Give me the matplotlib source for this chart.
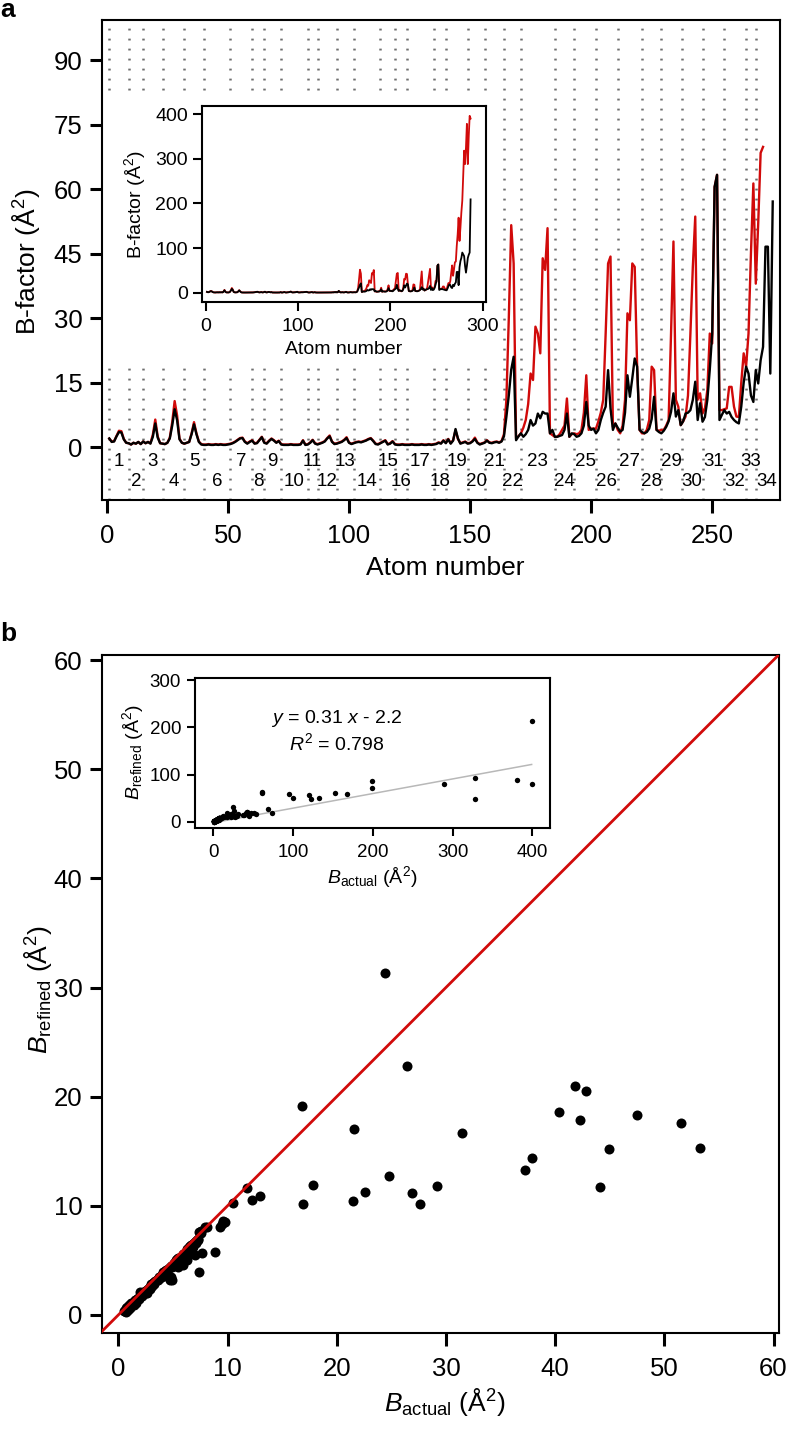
import matplotlib
matplotlib.use('Agg')
import matplotlib.pyplot as plt
import numpy as np
from matplotlib.patches import Rectangle

plt.rcParams['font.family'] = ['Liberation Sans', 'DejaVu Sans']
plt.rcParams['mathtext.fontset'] = 'custom'
plt.rcParams['mathtext.rm'] = 'Liberation Sans'
plt.rcParams['mathtext.it'] = 'Liberation Sans:italic'
plt.rcParams['mathtext.bf'] = 'Liberation Sans:bold'

# ---------------- data: per-atom B-factors (panel a) ----------------
b_refined = [
    2.0, 1.2, 1.3, 2.5, 3.5, 3.4, 1.8, 1.0, 0.9, 0.6,
    1.0, 0.8, 1.2, 0.7, 1.3, 0.9, 1.2, 0.8, 2.4, 5.5,
    2.2, 0.9, 0.8, 0.7, 1.0, 2.0, 5.0, 8.8, 6.3, 1.8,
    1.0, 0.8, 1.0, 1.2, 3.0, 5.3, 3.0, 1.2, 0.6, 0.5,
    0.5, 0.6, 0.5, 0.5, 0.6, 0.5, 0.6, 0.5, 0.5, 0.6,
    0.7, 0.9, 1.2, 1.6, 2.0, 2.1, 1.2, 0.8, 1.2, 1.5,
    0.8, 0.9, 1.6, 2.3, 1.0, 0.8, 1.4, 1.9, 1.5, 1.0,
    1.4, 0.6, 0.5, 0.5, 0.5, 0.6, 0.5, 0.5, 0.5, 0.6,
    1.5, 0.5, 0.6, 1.0, 1.6, 0.8, 0.6, 0.8, 1.0, 1.3,
    2.0, 2.5, 1.2, 0.7, 0.8, 1.0, 1.2, 1.6, 2.1, 1.0,
    0.7, 0.9, 1.1, 1.2, 1.1, 1.3, 1.5, 1.8, 2.0, 1.4,
    0.7, 0.6, 0.9, 1.2, 1.5, 0.6, 0.8, 1.3, 0.6, 0.5,
    0.5, 0.6, 0.5, 0.5, 0.5, 0.6, 0.5, 0.5, 0.5, 0.6,
    0.5, 0.5, 0.6, 0.5, 0.6, 0.7, 1.0, 0.8, 1.5, 0.9,
    1.8, 0.8, 1.5, 4.2, 2.0, 0.8, 1.0, 1.2, 0.8, 0.9,
    1.3, 1.9, 1.0, 0.6, 0.8, 1.0, 1.5, 1.0, 0.9, 1.1,
    1.2, 1.0, 1.3, 2.5,
    7.0, 12.0, 18.0, 21.0, 1.6, 2.5,
    3.2, 2.4, 3.0, 4.0, 6.3, 5.0, 5.5, 7.8, 6.7, 8.2,
    7.8, 7.8, 3.2, 4.0, 2.4, 2.4, 2.6, 2.8, 4.0, 7.8,
    2.4, 3.2, 3.0, 2.4, 2.6, 3.2, 5.0, 10.5, 5.0, 4.0,
    4.3, 3.2, 4.0, 6.3, 8.0, 9.4, 17.9, 9.0, 4.0, 5.5,
    4.5, 3.6, 4.0, 8.0, 16.7, 11.7, 16.0, 20.6, 18.7, 4.0,
    3.5, 3.2, 3.5, 4.3, 6.5, 11.7, 4.0, 3.5, 3.2, 3.8,
    4.7, 6.0, 8.2, 12.5, 7.1, 8.6, 5.1, 6.0, 7.8, 8.0,
    8.6, 11.0, 15.2, 6.3, 10.2, 5.9, 7.0, 11.0, 18.0, 26.4,
    60.5, 63.3, 6.3, 7.5, 8.6, 7.8, 8.2, 7.0, 6.3, 5.8,
    5.5, 9.4, 15.0, 18.7, 17.1, 12.0, 10.5, 17.9, 14.8, 20.2,
    23.3, 46.6, 46.6, 17.1, 57.1, 71.0, 78.0, 90.0, 86.0, 82.0,
    60.0, 45.0, 60.0, 78.0, 85.0, 90.0, 209.0,
]
b_actual = [
    2.0, 1.3, 1.4, 2.6, 3.8, 3.7, 1.9, 1.0, 0.9, 0.6,
    1.0, 0.8, 1.2, 0.7, 1.3, 0.9, 1.2, 0.9, 2.9, 6.4,
    2.5, 0.9, 0.8, 0.7, 1.0, 2.2, 5.8, 10.7, 7.4, 2.0,
    1.0, 0.8, 1.0, 1.2, 3.2, 5.8, 3.2, 1.3, 0.7, 0.6,
    0.6, 0.7, 0.6, 0.6, 0.7, 0.6, 0.7, 0.6, 0.6, 0.7,
    0.8, 1.0, 1.3, 1.7, 2.1, 2.2, 1.3, 0.9, 1.3, 1.6,
    0.9, 1.0, 1.7, 2.4, 1.1, 0.9, 1.5, 2.0, 1.6, 1.1,
    1.5, 0.7, 0.6, 0.6, 0.6, 0.7, 0.6, 0.6, 0.6, 0.7,
    1.6, 0.6, 0.7, 1.1, 1.7, 0.9, 0.7, 0.9, 1.1, 1.4,
    2.1, 2.7, 1.3, 0.8, 0.9, 1.1, 1.3, 1.7, 2.3, 1.1,
    0.8, 1.0, 1.2, 1.3, 1.2, 1.4, 1.6, 1.9, 2.1, 1.5,
    0.8, 0.7, 1.0, 1.3, 1.6, 0.7, 0.9, 1.4, 0.7, 0.6,
    0.6, 0.7, 0.6, 0.6, 0.6, 0.7, 0.6, 0.6, 0.6, 0.7,
    0.6, 0.6, 0.7, 0.6, 0.7, 0.8, 1.1, 0.9, 1.6, 1.0,
    1.9, 0.9, 1.6, 3.9, 1.9, 0.9, 1.1, 1.3, 0.9, 1.0,
    1.4, 2.2, 1.1, 0.7, 0.9, 1.1, 1.6, 1.1, 1.0, 1.2,
    1.3, 1.1, 1.4, 3.0,
    11.0, 30.0, 51.6, 42.7, 2.0, 2.5,
    3.2, 4.5, 6.3, 10.0, 17.1, 15.6, 28.0, 26.4, 21.8, 43.9,
    41.2, 50.9, 3.2, 2.8, 2.4, 2.4, 3.0, 4.0, 5.0, 11.3,
    2.4, 3.0, 3.2, 3.0, 3.2, 4.0, 8.0, 16.7, 4.0, 4.3,
    4.3, 4.3, 6.0, 8.0, 11.0, 26.4, 42.7, 44.3, 4.7, 5.5,
    4.0, 3.2, 5.0, 11.0, 31.1, 29.5, 42.7, 41.9, 18.7, 4.0,
    3.2, 3.2, 4.0, 6.3, 18.7, 17.9, 4.0, 3.8, 4.0, 4.0,
    5.0, 6.3, 26.4, 47.8, 11.0, 9.4, 5.1, 6.0, 7.1, 12.0,
    26.4, 41.9, 53.6, 11.0, 12.5, 7.8, 9.0, 13.3, 26.4, 24.1,
    60.5, 63.3, 8.6, 8.6, 8.8, 9.0, 14.0, 14.0, 9.4, 7.1,
    7.0, 15.0, 21.8, 18.7, 26.4, 45.0, 61.3, 38.0, 52.0, 68.4,
    69.8, 105.0, 131.0, 168.0, 116.0, 146.0, 180.0, 206.0, 260.0, 318.0,
    288.0, 325.0, 378.0, 288.0, 350.0, 396.0, 390.0,
]
atoms = list(range(1, len(b_actual) + 1))
n_main_actual = 271     # atoms shown in the main panel a
n_main_refined = 275

# residue boundaries (atom number where each residue starts) and end
residue_starts = [1, 9, 15, 23, 32, 40, 51, 60, 65, 72, 83, 87, 95, 102, 113,
                  119, 124, 135, 140, 149, 156, 164, 171, 185, 193, 202, 211,
                  221, 229, 237.5, 246, 255, 264, 268]
residue_end = 277
residue_names = [str(i) for i in range(1, 35)]

# ---------------- data: scatter (panel b) ----------------
cluster_actual = [0.5, 0.6, 0.7, 0.8, 0.8, 0.9, 1.0, 1.0, 1.1, 1.2,
                  1.2, 1.3, 1.4, 1.5, 1.5, 1.6, 1.7, 1.8, 1.9, 2.0,
                  2.0, 2.1, 2.2, 2.3, 2.4, 2.5, 2.5, 2.6, 2.7, 2.8,
                  2.9, 3.0, 3.1, 3.2, 3.3, 3.4, 3.5, 3.6, 3.7, 3.8,
                  3.9, 4.0, 4.1, 4.2, 4.3, 4.4, 4.5, 4.6, 4.7, 4.8,
                  4.9, 5.0, 5.1, 5.2, 5.3, 5.4, 5.5, 5.6, 5.7, 5.8,
                  5.9, 6.0, 6.1, 6.2, 6.3, 6.4, 6.5, 6.6, 6.7, 6.8,
                  6.9, 7.0, 7.1, 7.2, 7.3,
                  5.95, 7.0, 6.3, 5.5, 4.8, 4.9, 6.6, 7.1, 7.3, 7.6,
                  7.9, 3.6, 2.6, 2.2, 1.4, 1.1, 0.7, 6.8, 6.0, 5.6,
                  4.5, 3.9, 3.3, 2.9, 0.9, 1.6, 2.4, 4.2, 5.3]
cluster_refined = [0.4, 0.4, 0.6, 0.5, 0.7, 0.7, 0.8, 0.9, 0.8, 1.0,
                   1.1, 1.1, 1.2, 1.2, 1.4, 1.3, 1.5, 1.6, 1.5, 2.1,
                   1.7, 1.8, 1.9, 2.0, 2.1, 2.2, 2.0, 2.3, 2.4, 2.5,
                   2.6, 2.8, 2.7, 2.9, 3.0, 3.1, 3.2, 3.3, 3.5, 3.4,
                   3.6, 3.7, 3.9, 3.8, 4.0, 4.1, 3.9, 4.3, 3.2, 4.5,
                   4.4, 4.6, 4.8, 4.7, 5.0, 5.1, 5.2, 4.6, 5.3, 5.4,
                   5.6, 5.5, 5.7, 5.8, 6.0, 5.9, 6.2, 6.3, 6.4, 6.5,
                   6.6, 6.7, 6.8, 6.9, 6.9,
                   4.6, 5.5, 5.0, 4.4, 3.5, 3.2, 5.6, 6.6, 7.0, 7.5,
                   8.1, 3.2, 2.0, 1.7, 0.9, 0.6, 0.3, 6.2, 5.2, 5.0,
                   4.1, 3.5, 2.8, 2.4, 0.5, 1.1, 2.2, 3.6, 4.7]
outlier_actual = [53.3, 51.5, 47.5, 44.9, 44.1, 42.8, 41.8, 42.3, 40.4, 37.9,
                  37.2, 31.5, 29.2, 26.9, 27.6, 24.8, 24.4, 26.4, 21.6, 21.5,
                  22.6, 16.8, 17.8, 16.9, 13.0, 12.2, 11.8, 10.5, 9.8, 9.5,
                  9.3, 9.6, 8.85, 7.7, 7.4, 7.4, 8.1, 7.6]
outlier_refined = [15.3, 17.6, 18.3, 15.2, 11.7, 20.5, 21.0, 17.9, 18.6, 14.4,
                   13.3, 16.7, 11.8, 11.2, 10.2, 12.7, 31.3, 22.8, 17.0, 10.4,
                   11.3, 19.1, 11.9, 10.2, 10.9, 10.5, 11.6, 10.3, 8.5, 8.3,
                   8.1, 8.6, 5.8, 5.7, 3.9, 7.6, 8.1, 7.7]
high_actual = [60.8, 61.2, 69.0, 74.0, 95.0, 99.5, 120.0, 123.0, 132.0, 153.0,
               168.0, 198.5, 198.5, 289.0, 328.0, 328.0, 381.0, 399.0, 399.0]
high_refined = [63.0, 61.0, 28.0, 19.0, 58.0, 50.0, 57.0, 48.0, 49.6, 61.0,
                59.0, 87.0, 72.0, 80.0, 93.0, 48.0, 88.0, 213.0, 79.0]
fit_slope, fit_intercept, fit_r2 = 0.31, -2.2, 0.798

sc_actual = cluster_actual + outlier_actual + high_actual
sc_refined = cluster_refined + outlier_refined + high_refined

# ---------------- figure ----------------
W, H = 788, 1429
fig = plt.figure(figsize=(W / 100, H / 100), dpi=100)


def frame(l, t, r, b):
    return [l / W, 1 - b / H, (r - l) / W, (b - t) / H]


def style(ax, lw, tlen, twid, lsize, xpad, ypad):
    for s in ax.spines.values():
        s.set_linewidth(lw)
    ax.tick_params(direction='out', length=tlen, width=twid, labelsize=lsize,
                   top=False, right=False)
    ax.tick_params(axis='x', pad=xpad)
    ax.tick_params(axis='y', pad=ypad)


RED = '#d10a0a'
MAIN_FS = 18.5
LABEL_FS = 19

# ---- panel a main ----
ax = fig.add_axes(frame(102, 20, 780, 500))
ax.set_xlim(-2, 278)
ax.set_ylim(-12.3, 99.3)
ax.vlines(residue_starts, -12.3, 99.3, colors='#6e6e6e',
          linestyles=(0, (0.75, 3.25)), lw=1.8, zorder=1)
ax.add_patch(Rectangle((103 / W, 1 - 368 / H), (497 - 103) / W, (368 - 97) / H,
                       transform=fig.transFigure, fc='white', ec='none', zorder=1.5))
ax.plot(atoms[:n_main_actual], b_actual[:n_main_actual], color=RED, lw=1.7, zorder=3)
ax.plot(atoms[:n_main_refined], b_refined[:n_main_refined], color='black', lw=1.7, zorder=4)
ends = residue_starts[1:] + [residue_end]
for i, (lo, hi, name) in enumerate(zip(residue_starts, ends, residue_names)):
    ax.text((lo + hi) / 2, -3.3 if i % 2 == 0 else -8.1, name, ha='center',
            va='center', fontsize=13.5, zorder=5)
ax.set_xticks([0, 50, 100, 150, 200, 250])
ax.set_yticks([0, 15, 30, 45, 60, 75, 90])
style(ax, 1.5, 9, 2.2, MAIN_FS, 8, 5)
fig.text(26 / W, 1 - 262 / H, 'B-factor (Å$^2$)', rotation=90, ha='center',
         va='center', fontsize=LABEL_FS)
fig.text(445 / W, 1 - 568 / H, 'Atom number', ha='center', va='center', fontsize=LABEL_FS)
fig.text(8 / W, 1 - 10 / H, 'a', ha='center', va='center', fontsize=19, fontweight='bold')

# ---- panel a inset ----
ia = fig.add_axes(frame(201.7, 106, 485.7, 301.7))
ia.set_xlim(-4.7, 303.4)
ia.set_ylim(-20, 418)
ia.plot(atoms, b_actual, color=RED, lw=1.3, zorder=3)
ia.plot(atoms, b_refined, color='black', lw=1.3, zorder=4)
ia.set_xticks([0, 100, 200, 300])
ia.set_yticks([0, 100, 200, 300, 400])
style(ia, 1.5, 6.5, 1.5, 14, 5, 3.5)
fig.text(135 / W, 1 - 205 / H, 'B-factor (Å$^2$)', rotation=90, ha='center',
         va='center', fontsize=14)
fig.text(344 / W, 1 - 349 / H, 'Atom number', ha='center', va='center', fontsize=14)

# ---- panel b main ----
bx = fig.add_axes(frame(101.7, 655, 779, 1333))
bx.set_xlim(-1.52, 60.5)
bx.set_ylim(-1.65, 60.46)
bx.axline((0, 0), (1, 1), color=RED, lw=2.0, zorder=4)
bx.scatter(sc_actual, sc_refined, s=52, c='black', lw=0, zorder=3)
bx.set_xticks(range(0, 61, 10))
bx.set_yticks(range(0, 61, 10))
style(bx, 1.5, 9, 2.2, MAIN_FS, 8, 5)
fig.text(38 / W, 1 - 990 / H, r'$B_{\mathrm{refined}}$ (Å$^2$)', rotation=90,
         ha='center', va='center', fontsize=LABEL_FS)
fig.text(445 / W, 1 - 1402 / H, r'$B_{\mathrm{actual}}$ (Å$^2$)', ha='center',
         va='center', fontsize=LABEL_FS)
fig.text(8 / W, 1 - 634 / H, 'b', ha='center', va='center', fontsize=19, fontweight='bold')

# ---- panel b inset ----
ib = fig.add_axes(frame(195, 678, 550, 828.3))
ib.set_xlim(-23, 422)
ib.set_ylim(-14, 305)
fx = [min(sc_actual), max(sc_actual)]
ib.plot(fx, np.polyval([fit_slope, fit_intercept], fx), color='#b8b8b8', lw=1.1, zorder=2)
ib.scatter(sc_actual, sc_refined, s=15, c='black', lw=0, zorder=3)
ib.set_xticks([0, 100, 200, 300, 400])
ib.set_yticks([0, 100, 200, 300])
style(ib, 1.5, 6, 1.5, 13.5, 5, 4)
ib.text(155, 220, r'$y$ = %.2f $x$ - %.1f' % (fit_slope, -fit_intercept), ha='center',
        va='center', fontsize=14)
ib.text(155, 167, r'$R^2$ = %.3f' % fit_r2, ha='center', va='center', fontsize=14)
fig.text(372 / W, 1 - 877 / H, r'$B_{\mathrm{actual}}$ (Å$^2$)', ha='center',
         va='center', fontsize=14)
fig.text(133 / W, 1 - 752 / H, r'$B_{\mathrm{refined}}$ (Å$^2$)', rotation=90,
         ha='center', va='center', fontsize=14)

fig.savefig('out.png', dpi=100)
